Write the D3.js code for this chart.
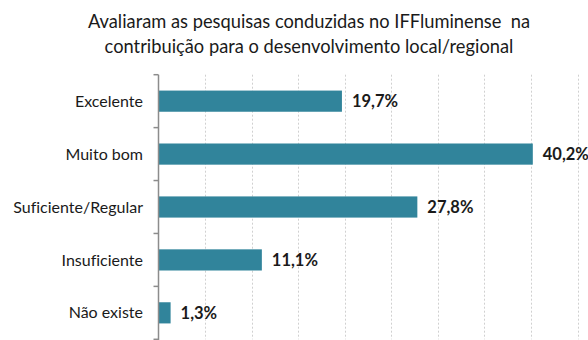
<!DOCTYPE html>
<html>
<head>
<meta charset="utf-8">
<script src="https://cdn.jsdelivr.net/npm/d3@7"></script>
<style>
  html, body { margin: 0; padding: 0; background: #fff; }
  svg { display: block; font-family: Lato, "Open Sans", sans-serif; font-variant-ligatures: none; }
  .title { white-space: pre; }
</style>
</head>
<body>
<svg id="chart" width="588" height="340"></svg>
<script>
// Survey answers and their shares (%)
const categories = ["Excelente", "Muito bom", "Suficiente/Regular", "Insuficiente", "Não existe"];
const values = [19.7, 40.2, 27.8, 11.1, 1.3];
const valueLabels = ["19,7%", "40,2%", "27,8%", "11,1%", "1,3%"];
const gridTicks = [5, 10, 15, 20, 25, 30, 35, 40, 45];
const titleLines = [
  "Avaliaram as pesquisas conduzidas no IFFluminense  na",
  "contribuição para o desenvolvimento local/regional"
];

const svg = d3.select("#chart");
const margin = { left: 158.5, top: 74.7, bottom: 339.3, right: 577.5 };

const x = d3.scaleLinear().domain([0, 45]).range([margin.left, margin.right]);
const y = d3.scaleBand().domain(categories).range([margin.top, margin.bottom]).paddingInner(0.6).paddingOuter(0.3);
const yTicks = d3.scaleBand().domain(categories).range([margin.top, margin.bottom]);

// Title
svg.append("g").selectAll("text").data(titleLines).join("text")
  .attr("class", "title")
  .attr("x", 309).attr("y", (d, i) => 28 + i * 25)
  .attr("text-anchor", "middle")
  .attr("font-size", 18.3)
  .attr("fill", "#1a1a1a")
  .text(d => d);

// Dotted vertical gridlines
svg.append("g").selectAll("line").data(gridTicks).join("line")
  .attr("x1", d => Math.round(x(d)) + 0.5).attr("x2", d => Math.round(x(d)) + 0.5)
  .attr("y1", margin.top).attr("y2", margin.bottom)
  .attr("stroke", "#d0d0d0").attr("stroke-width", 1)
  .attr("stroke-dasharray", "2,2");

// Bars
svg.append("g").selectAll("rect").data(values).join("rect")
  .attr("x", x(0))
  .attr("y", (d, i) => y(categories[i]))
  .attr("width", d => x(d) - x(0))
  .attr("height", y.bandwidth())
  .attr("fill", "#31849b");

// Category axis with ticks at band boundaries
const axisG = svg.append("g");
axisG.append("line")
  .attr("x1", margin.left).attr("x2", margin.left)
  .attr("y1", margin.top).attr("y2", margin.bottom + 1)
  .attr("stroke", "#8c8c8c").attr("stroke-width", 1.5);
const bounds = categories.map(c => yTicks(c)).concat([margin.bottom]);
axisG.selectAll("line.tick").data(bounds).join("line")
  .attr("class", "tick")
  .attr("x1", margin.left - 5).attr("x2", margin.left)
  .attr("y1", d => d).attr("y2", d => d)
  .attr("stroke", "#8c8c8c").attr("stroke-width", 1.5);

axisG.selectAll("text").data(categories).join("text")
  .attr("x", 143)
  .attr("y", d => y(d) + y.bandwidth() / 2)
  .attr("dy", "0.35em")
  .attr("text-anchor", "end")
  .attr("font-size", 16)
  .attr("fill", "#1a1a1a")
  .text(d => d);

// Value labels
svg.append("g").selectAll("text").data(values).join("text")
  .attr("x", d => x(d) + 10)
  .attr("y", (d, i) => y(categories[i]) + y.bandwidth() / 2)
  .attr("dy", "0.35em")
  .attr("font-size", 16.5)
  .attr("font-weight", "bold")
  .attr("fill", "#1a1a1a")
  .text((d, i) => valueLabels[i]);
</script>
</body>
</html>
